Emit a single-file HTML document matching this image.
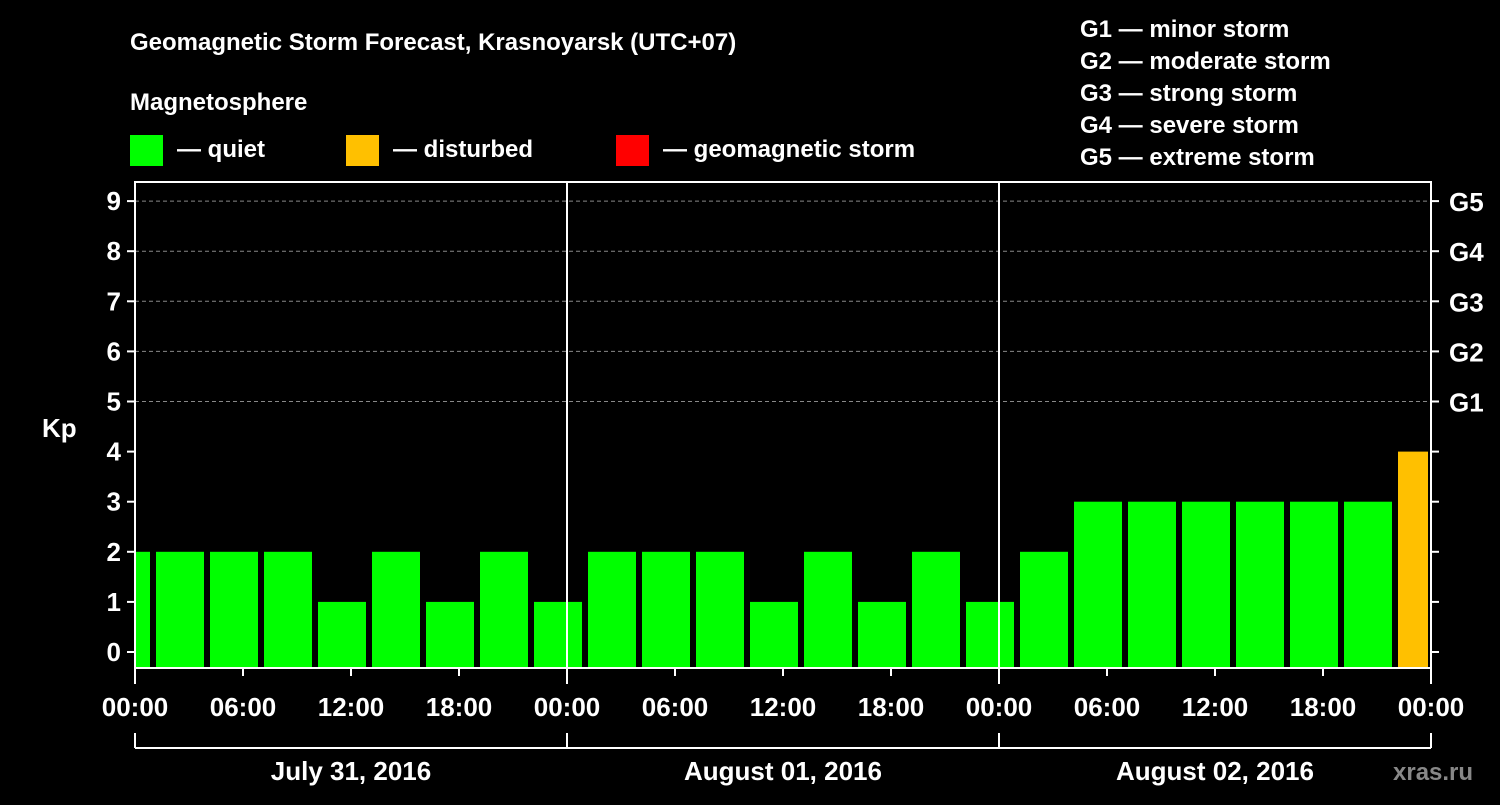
<!DOCTYPE html>
<html><head><meta charset="utf-8"><style>
body{margin:0;background:#000;width:1500px;height:800px;overflow:hidden}
text{font-family:"Liberation Sans",sans-serif;font-weight:bold;fill:#fff}
</style></head><body>
<svg id="chart" width="1500" height="800" xmlns="http://www.w3.org/2000/svg">
<text x="130" y="50" font-size="24">Geomagnetic Storm Forecast, Krasnoyarsk (UTC+07)</text>
<text x="130" y="110" font-size="24">Magnetosphere</text>
<g>
<rect x="130" y="135" width="33" height="31" fill="#00ff00"/>
<text x="177" y="157" font-size="24">— quiet</text>
<rect x="346" y="135" width="33" height="31" fill="#ffc000"/>
<text x="393" y="157" font-size="24">— disturbed</text>
<rect x="616" y="135" width="33" height="31" fill="#ff0000"/>
<text x="663" y="157" font-size="24">— geomagnetic storm</text>
</g>
<g font-size="24">
<text x="1080" y="37">G1 — minor storm</text>
<text x="1080" y="69">G2 — moderate storm</text>
<text x="1080" y="101">G3 — strong storm</text>
<text x="1080" y="133">G4 — severe storm</text>
<text x="1080" y="165">G5 — extreme storm</text>
</g>
<text x="42" y="437" font-size="26">Kp</text>
<text x="1393" y="780" font-size="24" style="fill:#888">xras.ru</text>
<g id="grid"></g><g id="bars"></g><g id="axes"></g>
</svg>
<script>
const kpValues=[2,2,2,2,1,2,1,2,1,2,2,2,1,2,1,2,1,2,3,3,3,3,3,3,4];
const barStartHours=[-2,1,4,7,10,13,16,19,22,25,28,31,34,37,40,43,46,49,52,55,58,61,64,67,70];
const dayLabels=["July 31, 2016","August 01, 2016","August 02, 2016"];
const xTickLabels=["00:00","06:00","12:00","18:00","00:00","06:00","12:00","18:00","00:00","06:00","12:00","18:00","00:00"];
const gLabels=["G1","G2","G3","G4","G5"];
const yTicks=[0,1,2,3,4,5,6,7,8,9];
const NS="http://www.w3.org/2000/svg";
const L=135,R=1431,T=182,B=668;
const x=h=>L+h*18;
const y=k=>652-k*50.1;
function mk(tag,attrs,parent,txt){const e=document.createElementNS(NS,tag);for(const k in attrs)e.setAttribute(k,attrs[k]);if(txt!==undefined)e.textContent=txt;document.getElementById(parent).appendChild(e);return e;}
for(const k of yTicks){ if(k>=5){const g=mk('line',{x1:L,x2:R,y1:y(k),y2:y(k),stroke:'#888','stroke-dasharray':'4,3','stroke-width':1},'grid');

}}
kpValues.forEach((v,i)=>{let x0=Math.max(x(barStartHours[i])+3,L+1),x1=Math.min(x(barStartHours[i]+3)-3,R-3);
const c=v>=5?'#ff0000':v>=4?'#ffc000':'#00ff00';
const r=mk('rect',{x:x0,y:y(v),width:x1-x0,height:B-y(v),fill:c},'bars');

});
const fr=mk('rect',{x:L,y:T,width:R-L,height:B-T,fill:'none',stroke:'#fff','stroke-width':2},'axes');


for(const k of yTicks){mk('line',{x1:L-8,x2:L,y1:y(k),y2:y(k),stroke:'#fff','stroke-width':2},'axes');
mk('line',{x1:R,x2:R+8,y1:y(k),y2:y(k),stroke:'#fff','stroke-width':2},'axes');
const t=mk('text',{x:L-14,y:y(k)+9,'font-size':26,'text-anchor':'end'},'axes',k);

}
gLabels.forEach((g,i)=>{const t=mk('text',{x:R+18,y:y(5+i)+10,'font-size':26},'axes',g);

});
for(let d=1;d<3;d++){const l=mk('line',{x1:x(24*d),x2:x(24*d),y1:T,y2:B,stroke:'#fff','stroke-width':2},'axes');

}
xTickLabels.forEach((s,i)=>{mk('line',{x1:x(6*i),x2:x(6*i),y1:B,y2:B+(i%4==0?16:8),stroke:'#fff','stroke-width':2},'axes');
const t=mk('text',{x:x(6*i),y:716,'font-size':26,'text-anchor':'middle'},'axes',s);

});
mk('line',{x1:L,x2:R,y1:748,y2:748,stroke:'#fff','stroke-width':2},'axes');
for(let d=0;d<=3;d++)mk('line',{x1:x(24*d),x2:x(24*d),y1:733,y2:748,stroke:'#fff','stroke-width':2},'axes');
dayLabels.forEach((s,i)=>{const t=mk('text',{x:x(24*i+12),y:780,'font-size':26,'text-anchor':'middle'},'axes',s);

});
</script>
</body></html>
